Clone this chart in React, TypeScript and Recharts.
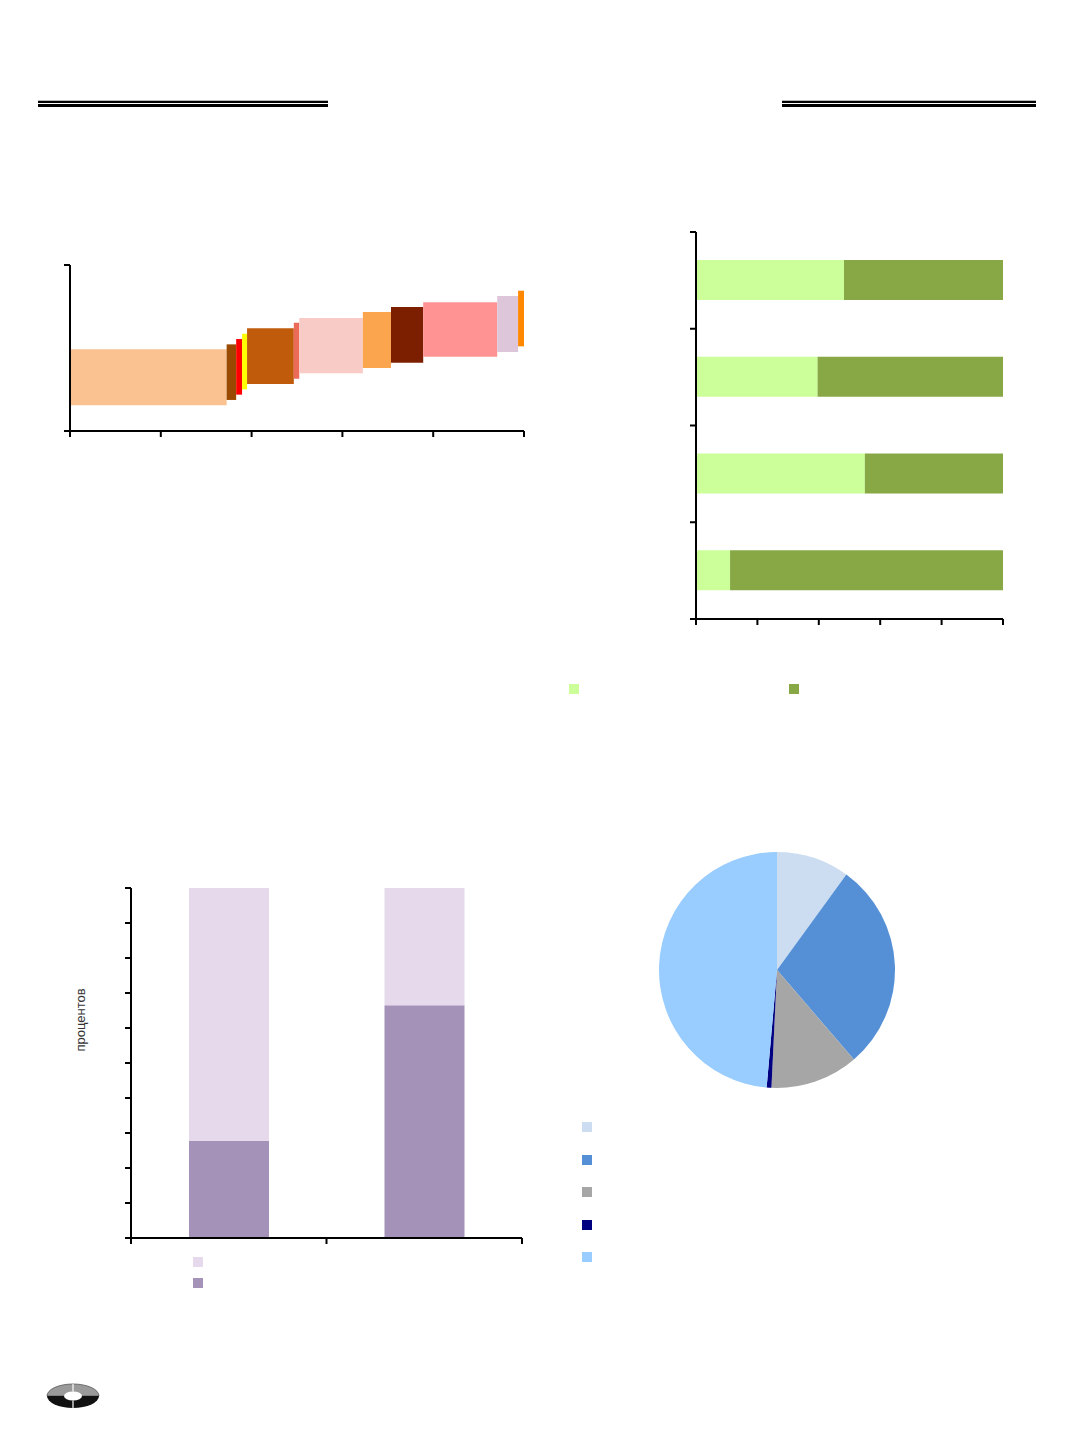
import React from "react";
import {
  Bar,
  BarChart,
  Cell,
  ComposedChart,
  Pie,
  PieChart,
  ReferenceArea,
  XAxis,
  YAxis,
} from "recharts";

// top-left: floating bars of varying width
const stepWidths = [34.5, 2.1, 1.3, 1.1, 10.3, 1.2, 14.0, 6.2, 7.1, 16.3, 4.6, 1.3];
const stepLow = [15.5, 18.7, 21.9, 25.1, 28.3, 31.5, 34.8, 38.0, 41.1, 44.8, 47.6, 51.0];
const stepHigh = [49.2, 52.2, 55.4, 58.6, 61.9, 65.2, 68.1, 71.7, 74.7, 77.5, 81.3, 84.5];
const stepColors = [
  "#FAC191", "#994A00", "#FF0000", "#FFFF00", "#BF5B0B", "#EB6A58",
  "#F9CBC6", "#FBA54E", "#7C1E00", "#FF9393", "#DDC5DA", "#FF8800",
];
const stepXTicks = [0, 20, 40, 60, 80, 100];
const stepYTicks = [0, 100];

// top-right: 100% horizontal stacks (listed top to bottom)
const rowIds = ["1", "2", "3", "4"];
const rowLight = [48.2, 39.6, 55.0, 11.1];
const rowDark = [51.8, 60.4, 45.0, 88.9];
const rowXTicks = [0, 20, 40, 60, 80, 100];
const rowBounds = [0, 1, 2, 3, 4];

// bottom-left: 100% vertical stacks
const colIds = ["1", "2"];
const colDark = [27.8, 66.5];
const colLight = [72.2, 33.5];
const colYTicks = [0, 10, 20, 30, 40, 50, 60, 70, 80, 90, 100];
const colBounds = [0, 1, 2];

// bottom-right: pie
const pieIds = ["1", "2", "3", "4", "5"];
const pieValues = [10.0, 28.7, 12.05, 0.65, 48.6];
const pieColors = ["#CCDDF2", "#5590D6", "#A6A6A6", "#000080", "#99CCFF"];

const GREEN_LIGHT = "#CCFF99";
const GREEN_DARK = "#87A845";
const PURPLE_LIGHT = "#E6D9EC";
const PURPLE_DARK = "#A492B8";

const axisLine = { stroke: "#000", strokeWidth: 2 };
const tickLine = { stroke: "#000", strokeWidth: 2 };
// tick marks stay, labels are empty in the source
const noLabel = () => <g />;

let acc = 0;
const steps = stepWidths.map((w, i) => {
  const x1 = acc;
  acc += w;
  return { x1, x2: acc, y1: stepLow[i], y2: stepHigh[i], fill: stepColors[i] };
});

// categories sit on a numeric axis (slot centre = index + 0.5) so ticks land on the slot edges
const rows = rowIds.map((name, i) => ({ name, slot: i + 0.5, light: rowLight[i], dark: rowDark[i] }));
const cols = colIds.map((name, i) => ({ name, slot: i + 0.5, dark: colDark[i], light: colLight[i] }));
const slices = pieIds.map((name, i) => ({ name, value: pieValues[i] }));

const abs = (left: number, top: number): React.CSSProperties => ({
  position: "absolute",
  left,
  top,
});

const Square = ({ x, y, color }: { x: number; y: number; color: string }) => (
  <div style={{ ...abs(x - 5, y - 5), width: 10, height: 10, background: color }} />
);

const HeaderRule = ({ x, width }: { x: number; width: number }) => (
  <div style={{ ...abs(x, 100), width }}>
    <div style={{ height: 2, background: "#000", borderTop: "1px solid #bbb" }} />
    <div style={{ height: 1 }} />
    <div style={{ height: 3, background: "#000" }} />
  </div>
);

// axes get width/height 1 (0 makes recharts skip drawing them), margins absorb it
const StepChart = () => (
  <div style={abs(40, 245)}>
    <ComposedChart
      width={520}
      height={210}
      data={steps}
      margin={{ top: 20, right: 36, bottom: 23, left: 29 }}
    >
      <XAxis
        type="number"
        dataKey="x1"
        domain={[0, 100]}
        ticks={stepXTicks}
        height={1}
        tick={noLabel}
        tickSize={6}
        axisLine={axisLine}
        tickLine={tickLine}
        allowDataOverflow
      />
      <YAxis
        type="number"
        domain={[0, 100]}
        ticks={stepYTicks}
        width={1}
        tick={noLabel}
        tickSize={6}
        axisLine={axisLine}
        tickLine={tickLine}
        allowDataOverflow
      />
      {steps.map((s, i) => (
        <ReferenceArea
          key={i}
          x1={s.x1}
          x2={s.x2}
          y1={s.y1}
          y2={s.y2}
          fill={s.fill}
          fillOpacity={1}
          stroke="none"
        />
      ))}
    </ComposedChart>
  </div>
);

const RowChart = () => (
  <div style={abs(660, 220)}>
    <BarChart
      width={370}
      height={420}
      layout="vertical"
      data={rows}
      barSize={40}
      margin={{ top: 12, right: 27, bottom: 20, left: 35 }}
    >
      <XAxis
        type="number"
        domain={[0, 100]}
        ticks={rowXTicks}
        height={1}
        tick={noLabel}
        tickSize={6}
        axisLine={axisLine}
        tickLine={tickLine}
      />
      <YAxis
        type="number"
        dataKey="slot"
        domain={[0, 4]}
        ticks={rowBounds}
        width={1}
        tick={noLabel}
        tickSize={6}
        axisLine={axisLine}
        tickLine={tickLine}
        allowDataOverflow
      />
      <Bar dataKey="light" stackId="s" fill={GREEN_LIGHT} isAnimationActive={false} />
      <Bar dataKey="dark" stackId="s" fill={GREEN_DARK} isAnimationActive={false} />
    </BarChart>
  </div>
);

const ColChart = () => (
  <div style={abs(100, 870)}>
    <BarChart
      width={450}
      height={400}
      data={cols}
      barSize={80}
      margin={{ top: 18, right: 28, bottom: 31, left: 30 }}
    >
      <XAxis
        type="number"
        dataKey="slot"
        domain={[0, 2]}
        ticks={colBounds}
        height={1}
        tick={noLabel}
        tickSize={6}
        axisLine={axisLine}
        tickLine={tickLine}
        allowDataOverflow
      />
      <YAxis
        type="number"
        domain={[0, 100]}
        ticks={colYTicks}
        width={1}
        tick={noLabel}
        tickSize={6}
        axisLine={axisLine}
        tickLine={tickLine}
      />
      <Bar dataKey="dark" stackId="s" fill={PURPLE_DARK} isAnimationActive={false} />
      <Bar dataKey="light" stackId="s" fill={PURPLE_LIGHT} isAnimationActive={false} />
    </BarChart>
  </div>
);

const ShareChart = () => (
  <div style={abs(640, 830)}>
    <PieChart width={280} height={280} margin={{ top: 0, right: 0, bottom: 0, left: 0 }}>
      <Pie
        data={slices}
        dataKey="value"
        cx={137}
        cy={140}
        outerRadius={118}
        startAngle={90}
        endAngle={-270}
        stroke="none"
        isAnimationActive={false}
      >
        {slices.map((s, i) => (
          <Cell key={s.name} fill={pieColors[i]} />
        ))}
      </Pie>
    </PieChart>
  </div>
);

const Logo = () => (
  <svg style={abs(46, 1382)} width={54} height={29} viewBox="0 0 54 29">
    <path d="M1 14 A26 12 0 0 1 53 14 Z" fill="#9a9a9a" stroke="#555" strokeWidth={0.8} />
    <path d="M1 14 A26 12 0 0 0 53 14 Z" fill="#111" />
    <ellipse cx={27} cy={14} rx={9} ry={4.5} fill="#fff" />
    <line x1={27} y1={2} x2={27} y2={9.5} stroke="#fff" strokeWidth={1.2} />
    <line x1={27} y1={18.5} x2={27} y2={28} stroke="#fff" strokeWidth={1.2} />
  </svg>
);

export default function App() {
  return (
    <div
      style={{
        position: "absolute",
        left: 0,
        top: 0,
        width: 1072,
        height: 1433,
        background: "#fff",
        fontFamily: "'Liberation Sans', Arial, sans-serif",
      }}
    >
      <HeaderRule x={38} width={290} />
      <HeaderRule x={782} width={254} />

      <StepChart />
      <RowChart />
      <Square x={574} y={689} color={GREEN_LIGHT} />
      <Square x={794} y={689} color={GREEN_DARK} />

      <ColChart />
      <div
        style={{
          ...abs(80, 1020),
          transform: "translate(-50%, -50%) rotate(-90deg)",
          fontSize: 13,
          color: "#333",
          whiteSpace: "nowrap",
        }}
      >
        процентов
      </div>
      <Square x={198} y={1262} color={PURPLE_LIGHT} />
      <Square x={198} y={1283} color={PURPLE_DARK} />

      <ShareChart />
      {pieColors.map((c, i) => (
        <Square key={c} x={587} y={[1127, 1160, 1192, 1225, 1257][i]} color={c} />
      ))}

      <Logo />
    </div>
  );
}
